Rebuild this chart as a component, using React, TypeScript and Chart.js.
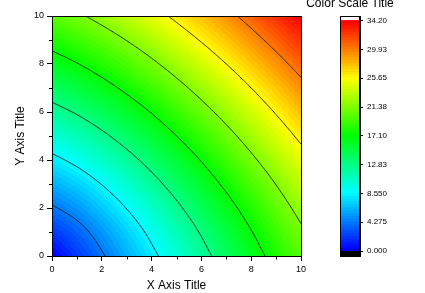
import React, { useEffect, useRef } from "react";
import { Chart, registerables } from "chart.js";

Chart.register(...registerables);

const FONT = "'Liberation Sans', Arial, Helvetica, sans-serif";

// grid coordinates
const xValues = [0, 1, 2, 3, 4, 5, 6, 7, 8, 9, 10];
const yValues = [0, 1, 2, 3, 4, 5, 6, 7, 8, 9, 10];

const zRow0 = [0, 2, 4, 6, 8, 10, 12, 14, 16, 18, 20];
const zRow1 = [2, 3.42, 5.23, 7.14, 9.1, 11.06, 13.04, 15.03, 17.01, 19.0, 21.0];
const zRow2 = [4, 5.23, 6.84, 8.61, 10.46, 12.36, 14.29, 16.23, 18.19, 20.16, 22.13];
const zRow3 = [6, 7.14, 8.61, 10.25, 12.01, 13.83, 15.69, 17.59, 19.5, 21.43, 23.38];
const zRow4 = [8, 9.1, 10.46, 12.01, 13.67, 15.41, 17.21, 19.05, 20.92, 22.81, 24.72];
const zRow5 = [10, 11.06, 12.36, 13.83, 15.41, 17.09, 18.83, 20.61, 22.43, 24.28, 26.15];
const zRow6 = [12, 13.04, 14.29, 15.69, 17.21, 18.83, 20.51, 22.24, 24.01, 25.82, 27.66];
const zRow7 = [14, 15.03, 16.23, 17.59, 19.05, 20.61, 22.24, 23.92, 25.65, 27.42, 29.22];
const zRow8 = [16, 17.01, 18.19, 19.5, 20.92, 22.43, 24.01, 25.65, 27.34, 29.07, 30.83];
const zRow9 = [18, 19.0, 20.16, 21.43, 22.81, 24.28, 25.82, 27.42, 29.07, 30.76, 32.48];
const zRow10 = [20, 21.0, 22.13, 23.38, 24.72, 26.15, 27.66, 29.22, 30.83, 32.48, 34.2];
const zRows = [zRow0, zRow1, zRow2, zRow3, zRow4, zRow5, zRow6, zRow7, zRow8, zRow9, zRow10];

// colour scale
const zMin = 0;
const zMax = 34.2;
const levelCount = 80;
const underflowBottom = -0.74;
const overflowTop = 34.9;
const contourLevels = [4.275, 8.55, 12.825, 17.1, 21.375, 25.65, 29.925];
const colorTicks = [0, 4.275, 8.55, 12.825, 17.1, 21.375, 25.65, 29.925, 34.2];
const colorTickLabels = ["0.000", "4.275", "8.550", "12.83", "17.10", "21.38", "25.65", "29.93", "34.20"];
const paletteStops = [
  [0, 0, 255],
  [0, 255, 255],
  [0, 255, 0],
  [255, 255, 0],
  [255, 0, 0],
];

// axes
const xMajorTicks = [0, 2, 4, 6, 8, 10];
const xMinorTicks = [1, 3, 5, 7, 9];
const yMinorTicks = [1, 3, 5, 7, 9];
const xTitle = "X Axis Title";
const yTitle = "Y Axis Title";
const colorTitle = "Color Scale Title";

function paletteColor(t: number): number[] {
  const seg = paletteStops.length - 1;
  const f = Math.max(0, Math.min(1, t)) * seg;
  let k = Math.floor(f);
  if (k >= seg) k = seg - 1;
  const u = f - k;
  const a = paletteStops[k];
  const b = paletteStops[k + 1];
  return [0, 1, 2].map((c) => Math.round(a[c] + (b[c] - a[c]) * u));
}

const bandColors: number[][] = [];
for (let i = 0; i < levelCount; i++) bandColors.push(paletteColor(i / (levelCount - 1)));
const levelStep = (zMax - zMin) / levelCount;

function gridZ(ix: number, iy: number): number {
  const nx = xValues.length;
  const ny = yValues.length;
  if (ix < 0) return 2 * gridZ(0, iy) - gridZ(1, iy);
  if (ix > nx - 1) return 2 * gridZ(nx - 1, iy) - gridZ(nx - 2, iy);
  if (iy < 0) return 2 * gridZ(ix, 0) - gridZ(ix, 1);
  if (iy > ny - 1) return 2 * gridZ(ix, ny - 1) - gridZ(ix, ny - 2);
  return zRows[iy][ix];
}

function cr(p0: number, p1: number, p2: number, p3: number, t: number) {
  return 0.5 * (2 * p1 + (-p0 + p2) * t + (2 * p0 - 5 * p1 + 4 * p2 - p3) * t * t + (-p0 + 3 * p1 - 3 * p2 + p3) * t * t * t);
}

function sampleZ(x: number, y: number): number {
  const nx = xValues.length;
  const ny = yValues.length;
  const fx = ((x - xValues[0]) / (xValues[nx - 1] - xValues[0])) * (nx - 1);
  const fy = ((y - yValues[0]) / (yValues[ny - 1] - yValues[0])) * (ny - 1);
  let ix = Math.floor(fx);
  let iy = Math.floor(fy);
  ix = Math.max(0, Math.min(nx - 2, ix));
  iy = Math.max(0, Math.min(ny - 2, iy));
  const tx = fx - ix;
  const ty = fy - iy;
  const col: number[] = [];
  for (let m = -1; m <= 2; m++) {
    col.push(cr(gridZ(ix - 1, iy + m), gridZ(ix, iy + m), gridZ(ix + 1, iy + m), gridZ(ix + 2, iy + m), tx));
  }
  return cr(col[0], col[1], col[2], col[3], ty);
}

const contourPlugin = {
  id: "contourFill",
  beforeDatasetsDraw(chart: any) {
    const { ctx, chartArea, scales } = chart;
    const xs = scales.x;
    const ys = scales.y;
    const left = Math.round(chartArea.left);
    const top = Math.round(chartArea.top);
    const w = Math.round(chartArea.right) - left;
    const h = Math.round(chartArea.bottom) - top;
    const off = document.createElement("canvas");
    off.width = w;
    off.height = h;
    const octx = off.getContext("2d")!;
    const img = octx.createImageData(w, h);
    for (let j = 0; j < h; j++) {
      const dy = ys.getValueForPixel(top + j + 0.5);
      for (let i = 0; i < w; i++) {
        const dx = xs.getValueForPixel(left + i + 0.5);
        const z = sampleZ(dx, dy);
        let b = Math.floor((z - zMin) / levelStep);
        b = Math.max(0, Math.min(levelCount - 1, b));
        const c = bandColors[b];
        const p = (j * w + i) * 4;
        img.data[p] = c[0];
        img.data[p + 1] = c[1];
        img.data[p + 2] = c[2];
        img.data[p + 3] = 255;
      }
    }
    octx.putImageData(img, 0, 0);
    ctx.save();
    ctx.drawImage(off, left, top);

    // contour lines (marching squares on a fine resampling)
    const n = 220;
    const x0 = xValues[0];
    const x1 = xValues[xValues.length - 1];
    const y0 = yValues[0];
    const y1 = yValues[yValues.length - 1];
    const gx: number[] = [];
    const gy: number[] = [];
    for (let i = 0; i <= n; i++) {
      gx.push(x0 + ((x1 - x0) * i) / n);
      gy.push(y0 + ((y1 - y0) * i) / n);
    }
    const v: number[][] = [];
    for (let j = 0; j <= n; j++) {
      const row: number[] = [];
      for (let i = 0; i <= n; i++) row.push(sampleZ(gx[i], gy[j]));
      v.push(row);
    }
    ctx.beginPath();
    ctx.rect(chartArea.left, chartArea.top, chartArea.right - chartArea.left, chartArea.bottom - chartArea.top);
    ctx.clip();
    ctx.strokeStyle = "#222222";
    ctx.lineWidth = 1;
    for (const L of contourLevels) {
      ctx.beginPath();
      for (let j = 0; j < n; j++) {
        for (let i = 0; i < n; i++) {
          const a = v[j][i];
          const b = v[j][i + 1];
          const c = v[j + 1][i + 1];
          const d = v[j + 1][i];
          const pts: number[][] = [];
          const edge = (va: number, vb: number, xa: number, ya: number, xb: number, yb: number) => {
            if ((va < L) !== (vb < L)) {
              const t = (L - va) / (vb - va);
              pts.push([xa + (xb - xa) * t, ya + (yb - ya) * t]);
            }
          };
          edge(a, b, gx[i], gy[j], gx[i + 1], gy[j]);
          edge(b, c, gx[i + 1], gy[j], gx[i + 1], gy[j + 1]);
          edge(d, c, gx[i], gy[j + 1], gx[i + 1], gy[j + 1]);
          edge(a, d, gx[i], gy[j], gx[i], gy[j + 1]);
          for (let k = 0; k + 1 < pts.length; k += 2) {
            ctx.moveTo(xs.getPixelForValue(pts[k][0]), ys.getPixelForValue(pts[k][1]));
            ctx.lineTo(xs.getPixelForValue(pts[k + 1][0]), ys.getPixelForValue(pts[k + 1][1]));
          }
        }
      }
      ctx.stroke();
    }
    ctx.restore();
  },
  afterDatasetsDraw(chart: any) {
    const { ctx, chartArea, scales } = chart;
    const left = Math.round(chartArea.left);
    const top = Math.round(chartArea.top);
    const right = Math.round(chartArea.right);
    const bottom = Math.round(chartArea.bottom);
    ctx.save();
    ctx.strokeStyle = "#000";
    ctx.lineWidth = 1;
    ctx.strokeRect(left + 0.5, top + 0.5, right - left, bottom - top);
    ctx.beginPath();
    for (const t of xMinorTicks) {
      const px = Math.round(scales.x.getPixelForValue(t)) + 0.5;
      ctx.moveTo(px, bottom);
      ctx.lineTo(px, bottom + 3.5);
    }
    for (const t of yMinorTicks) {
      const py = Math.round(scales.y.getPixelForValue(t)) + 0.5;
      ctx.moveTo(left + 0.5, py);
      ctx.lineTo(left - 3, py);
    }
    ctx.stroke();
    ctx.restore();
  },
};

const colorBarPlugin = {
  id: "colorBarFrame",
  afterDatasetsDraw(chart: any) {
    const { ctx, chartArea } = chart;
    const left = Math.round(chartArea.left);
    const top = Math.round(chartArea.top);
    const right = Math.round(chartArea.right);
    const bottom = Math.round(chartArea.bottom);
    ctx.save();
    ctx.strokeStyle = "#000";
    ctx.lineWidth = 1;
    ctx.strokeRect(left + 0.5, top + 0.5, right - left - 1, bottom - top);
    ctx.fillStyle = "#000";
    ctx.font = "12px " + FONT;
    ctx.textAlign = "center";
    ctx.textBaseline = "alphabetic";
    ctx.fillText(colorTitle, (chartArea.left + chartArea.right) / 2, 7);
    ctx.restore();
  },
};

export default function App() {
  const mainRef = useRef<HTMLCanvasElement>(null);
  const barRef = useRef<HTMLCanvasElement>(null);

  useEffect(() => {
    Chart.defaults.font.family = FONT;
    Chart.defaults.color = "#000";

    const gridPoints: { x: number; y: number }[] = [];
    yValues.forEach((yy) => xValues.forEach((xx) => gridPoints.push({ x: xx, y: yy })));

    const main = new Chart(mainRef.current!, {
      type: "scatter",
      data: {
        datasets: [{ data: gridPoints, pointRadius: 0, showLine: false }],
      },
      options: {
        responsive: false,
        animation: false,
        layout: { padding: { left: 0, top: 16, right: 124, bottom: 0 } },
        plugins: { legend: { display: false }, tooltip: { enabled: false } },
        scales: {
          x: {
            type: "linear",
            min: xValues[0],
            max: xValues[xValues.length - 1],
            afterBuildTicks: (s: any) => {
              s.ticks = xMajorTicks.map((v) => ({ value: v }));
            },
            afterFit: (s: any) => {
              s.height = 37;
            },
            ticks: { font: { size: 9 }, color: "#000", padding: 3, maxRotation: 0 },
            grid: { display: true, drawOnChartArea: false, drawTicks: true, tickLength: 5, color: "#000" },
            border: { display: true, color: "#000" },
            title: { display: true, text: xTitle, font: { size: 12 }, color: "#000", padding: { top: 0, bottom: 0 } },
          },
          y: {
            type: "linear",
            min: yValues[0],
            max: yValues[yValues.length - 1],
            afterBuildTicks: (s: any) => {
              s.ticks = xMajorTicks.map((v) => ({ value: v }));
            },
            afterFit: (s: any) => {
              s.width = 52;
            },
            ticks: { font: { size: 9 }, color: "#000", padding: 3 },
            grid: { display: true, drawOnChartArea: false, drawTicks: true, tickLength: 5, color: "#000" },
            border: { display: true, color: "#000" },
            title: { display: true, text: yTitle, font: { size: 12 }, color: "#000", padding: { top: 13, bottom: 0 } },
          },
        },
      },
      plugins: [contourPlugin],
    });

    const bandDatasets: any[] = [];
    bandDatasets.push({ data: [[underflowBottom, zMin]], backgroundColor: "#000000" });
    for (let i = 0; i < levelCount; i++) {
      const lo = zMin + i * levelStep;
      const c = bandColors[i];
      bandDatasets.push({ data: [[lo, lo + levelStep]], backgroundColor: `rgb(${c[0]},${c[1]},${c[2]})` });
    }
    bandDatasets.push({ data: [[zMax, overflowTop]], backgroundColor: "#ffffff" });
    bandDatasets.forEach((d) => {
      d.grouped = false;
      d.barPercentage = 1;
      d.categoryPercentage = 1;
      d.borderWidth = 0;
      d.inflateAmount = 0.6;
    });

    const bar = new Chart(barRef.current!, {
      type: "bar",
      data: { labels: [""], datasets: bandDatasets },
      options: {
        responsive: false,
        animation: false,
        layout: { padding: { left: 340, right: 25, top: 16, bottom: 37 } },
        plugins: { legend: { display: false }, tooltip: { enabled: false } },
        scales: {
          x: { display: false },
          y: {
            position: "right",
            min: underflowBottom,
            max: overflowTop,
            afterBuildTicks: (s: any) => {
              s.ticks = colorTicks.map((v) => ({ value: v }));
            },
            afterFit: (s: any) => {
              s.width = 40;
            },
            ticks: {
              autoSkip: false,
              font: { size: 8 },
              color: "#000",
              padding: 4,
              callback: (_v: any, i: number) => colorTickLabels[i],
            },
            grid: { display: true, drawOnChartArea: false, drawTicks: true, tickLength: 3, color: "#000" },
            border: { display: true, color: "#000" },
          },
        },
      },
      plugins: [colorBarPlugin],
    });

    return () => {
      main.destroy();
      bar.destroy();
    };
  }, []);

  return (
    <div style={{ position: "fixed", left: 0, top: 0, width: 425, height: 293, background: "#fff" }}>
      <canvas ref={mainRef} width={425} height={293} style={{ position: "absolute", left: 0, top: 0 }} />
      <canvas ref={barRef} width={425} height={293} style={{ position: "absolute", left: 0, top: 0 }} />
    </div>
  );
}
